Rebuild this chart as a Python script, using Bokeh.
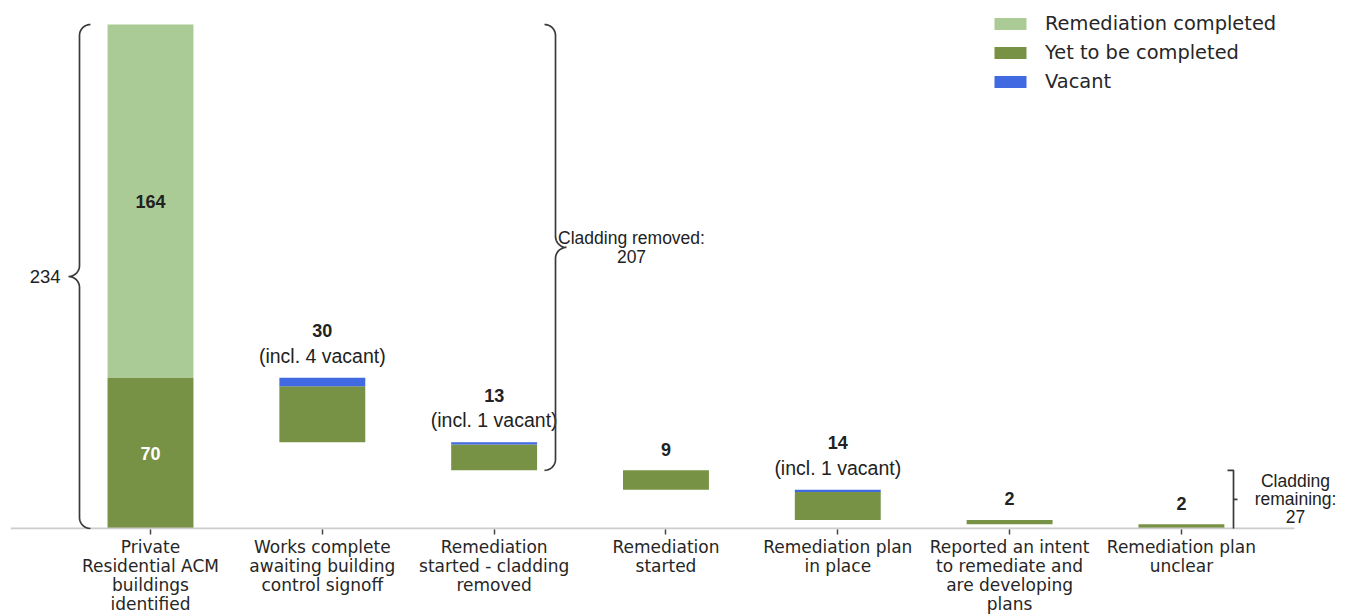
import numpy as np
from bokeh.plotting import figure
from bokeh.models import ColumnDataSource, FixedTicker, Label, Legend, LegendItem
from bokeh.core.properties import value
from bokeh.embed import file_html
from bokeh.resources import INLINE

# ---------------- data ----------------
categories = [
    "Private\nResidential ACM\nbuildings\nidentified",
    "Works complete\nawaiting building\ncontrol signoff",
    "Remediation\nstarted - cladding\nremoved",
    "Remediation\nstarted",
    "Remediation plan\nin place",
    "Reported an intent\nto remediate and\nare developing\nplans",
    "Remediation plan\nunclear",
]
remediation_completed = [164, 0, 0, 0, 0, 0, 0]
yet_to_be_completed = [70, 26, 12, 9, 13, 2, 2]
vacant = [0, 4, 1, 0, 1, 0, 0]
total_identified = 234
cladding_removed = 207
cladding_remaining = 27

# ---------------- layout constants ----------------
KX = 171.82          # px per category
KY = 504 / 234       # px per building
LEFT_PX, TOP_PX, BOTTOM_PX = 10, 10, 529
X0 = (LEFT_PX - 150) / KX
X1 = X0 + (1347 - LEFT_PX) / KX
Y0 = -1 / KY
Y1 = 234 + (24 - TOP_PX) / KY
AXIS_END = (1294 - 150) / KX

LIGHT = "#aacb96"
DARK = "#789245"
BLUE = "#4169e1"
INK = "#222222"

n = len(categories)
xs = list(range(n))

# waterfall geometry from data
bottoms, tops = [], []
level = yet_to_be_completed[0] + vacant[0]
for i in range(n):
    if i == 0:
        bottoms.append(0)
        tops.append(yet_to_be_completed[0] + vacant[0])
    else:
        t = level
        b = t - (yet_to_be_completed[i] + vacant[i])
        tops.append(t)
        bottoms.append(b)
        level = b

dark_top = [b + y for b, y in zip(bottoms, yet_to_be_completed)]
blue_top = [d + v for d, v in zip(dark_top, vacant)]
light_bottom = [t for t in tops]
light_top = [t + r for t, r in zip(tops, remediation_completed)]

src = ColumnDataSource(dict(x=xs, bottom=bottoms, dark_top=dark_top,
                            blue_top=blue_top, light_bottom=light_bottom,
                            light_top=light_top))

p = figure(width=1347, height=616, x_range=(X0, X1), y_range=(Y0, Y1),
           output_backend="svg", toolbar_location=None, y_axis_location=None,
           min_border_left=LEFT_PX, min_border_right=0, min_border_top=TOP_PX,
           min_border_bottom=616 - BOTTOM_PX, outline_line_color=None,
           background_fill_color="white")
p.grid.visible = False

r_light = p.vbar(x="x", bottom="light_bottom", top="light_top", width=0.5,
                 source=src, fill_color=LIGHT, line_color=None)
r_dark = p.vbar(x="x", bottom="bottom", top="dark_top", width=0.5,
                source=src, fill_color=DARK, line_color=None)
r_blue = p.vbar(x="x", bottom="dark_top", top="blue_top", width=0.5,
                source=src, fill_color=BLUE, line_color=None)

# baseline (axis spine)
p.segment(x0=[X0], y0=[0], x1=[AXIS_END], y1=[0], line_color="#cccccc", line_width=2)

# axis
ax = p.xaxis[0]
ax.ticker = FixedTicker(ticks=xs)
ax.major_label_overrides = {i: c for i, c in zip(xs, categories)}
ax.minor_tick_line_color = None
ax.major_tick_in = 0
ax.major_tick_out = 5
ax.major_tick_line_color = "#444444"
ax.major_tick_line_width = 1.5
ax.axis_line_color = None
ax.major_label_standoff = 2
ax.major_label_text_font = "DejaVu Sans"
ax.major_label_text_font_size = "17px"
ax.major_label_text_color = "#262626"
ax.major_label_text_line_height = 0.95

# value labels
first_light_mid = (light_bottom[0] + light_top[0]) / 2
first_dark_mid = (bottoms[0] + dark_top[0]) / 2
p.text(x=[0], y=[first_light_mid], text=[str(remediation_completed[0])],
       text_align="center", text_baseline="middle",
       text_font=value("Liberation Sans"), text_font_style="bold",
       text_font_size="18px", text_color=INK)
p.text(x=[0], y=[first_dark_mid], text=[str(yet_to_be_completed[0])],
       text_align="center", text_baseline="middle",
       text_font=value("Liberation Sans"), text_font_style="bold",
       text_font_size="18px", text_color="white")

num_x, num_y, num_t, num_off = [], [], [], []
inc_x, inc_y, inc_t = [], [], []
for i in range(1, n):
    tot = yet_to_be_completed[i] + vacant[i]
    num_x.append(i)
    num_y.append(tops[i])
    num_t.append(str(tot))
    num_off.append(-47 if vacant[i] else -21)
    if vacant[i]:
        inc_x.append(i)
        inc_y.append(tops[i])
        inc_t.append(f"(incl. {vacant[i]} vacant)")

p.text(x=num_x, y=num_y, text=num_t, y_offset=num_off,
       text_align="center", text_baseline="middle",
       text_font=value("Liberation Sans"), text_font_style="bold",
       text_font_size="18px", text_color=INK)
p.text(x=inc_x, y=inc_y, text=inc_t, y_offset=-22,
       text_align="center", text_baseline="middle",
       text_font=value("Liberation Sans"), text_font_size="19.5px",
       text_color=INK)


# braces
def brace(x0, y0, y1, s, r=11):
    rx = r / KX
    ry = r / KY
    ym = (y0 + y1) / 2
    up = np.linspace(0, np.pi / 2, 14)
    dn = up[::-1]
    ax_ = x0 + s * rx - s * rx * np.cos(dn)
    ay_ = y1 - ry + ry * np.sin(dn)
    bx_ = x0 - s * rx + s * rx * np.cos(up)
    by_ = ym + ry - ry * np.sin(up)
    cx_ = x0 - s * rx + s * rx * np.cos(dn)
    cy_ = ym - ry + ry * np.sin(dn)
    dx_ = x0 + s * rx - s * rx * np.cos(up)
    dy_ = y0 + ry - ry * np.sin(up)
    return (np.concatenate([ax_, bx_, cx_, dx_]),
            np.concatenate([ay_, by_, cy_, dy_]))


BR_COLOR = "#3a3a3a"
lx0 = (79 - 150) / KX
bx, by = brace(lx0, 0, total_identified, 1)
p.line(bx, by, line_color=BR_COLOR, line_width=1.7)
p.add_layout(Label(x=lx0 - 19 / KX, y=total_identified / 2, text=str(total_identified),
                   text_align="right", text_baseline="middle",
                   text_font="Liberation Sans", text_font_size="18.5px",
                   text_color=INK))

rx0 = (555 - 150) / KX
cb, ct = total_identified - cladding_removed, total_identified
bx, by = brace(rx0, cb, ct, -1)
p.line(bx, by, line_color=BR_COLOR, line_width=1.7)
p.add_layout(Label(x=rx0 + 76 / KX, y=(cb + ct) / 2,
                   text=f"Cladding removed:\n{cladding_removed}",
                   text_align="center", text_baseline="middle",
                   text_font="Liberation Sans", text_font_size="17.5px",
                   text_color=INK, text_line_height=0.95))

# square bracket for remaining
qx = (1233 - 150) / KX
tick = 6 / KX
p.multi_line(xs=[[qx - tick, qx, qx], [qx, qx + 4 / KX]],
             ys=[[cladding_remaining, cladding_remaining, 0],
                 [cladding_remaining / 2, cladding_remaining / 2]],
             line_color=BR_COLOR, line_width=1.7)
p.add_layout(Label(x=qx + 62 / KX, y=cladding_remaining / 2,
                   text=f"Cladding\nremaining:\n{cladding_remaining}",
                   text_align="center", text_baseline="middle",
                   text_font="Liberation Sans", text_font_size="17.5px",
                   text_color=INK, text_line_height=0.9))

legend = Legend(items=[LegendItem(label="Remediation completed", renderers=[r_light]),
                       LegendItem(label="Yet to be completed", renderers=[r_dark]),
                       LegendItem(label="Vacant", renderers=[r_blue])],
                location=(980, 436), margin=0, padding=0,
                border_line_color=None, background_fill_alpha=0,
                glyph_width=40, glyph_height=15, label_standoff=15,
                label_height=22, spacing=6,
                label_text_font="DejaVu Sans",
                label_text_font_size="19.4px", label_text_color="#262626")
p.add_layout(legend, "center")

open("out.html", "w").write(file_html(p, INLINE))
